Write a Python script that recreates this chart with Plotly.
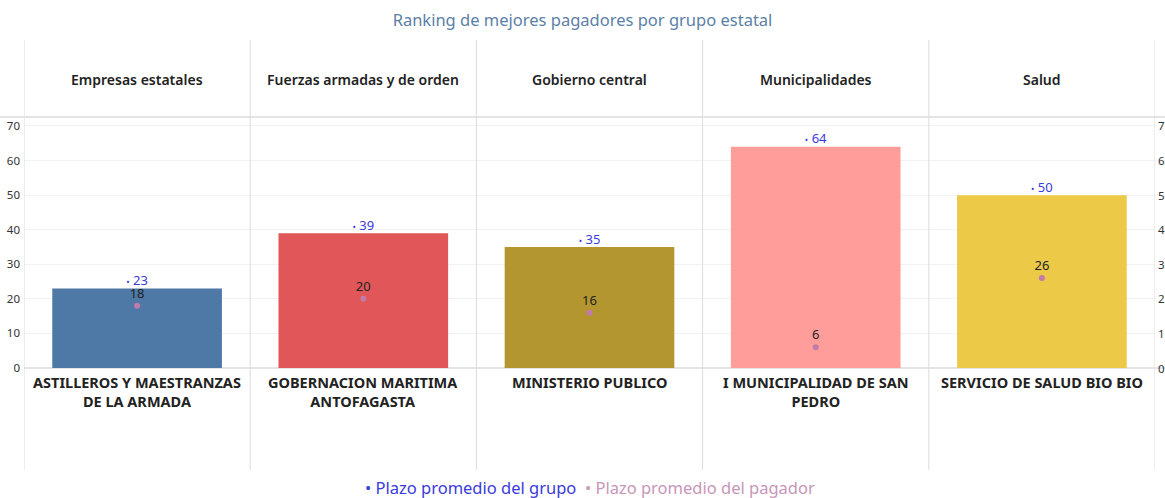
import plotly.graph_objects as go

groups = ["Empresas estatales", "Fuerzas armadas y de orden", "Gobierno central",
          "Municipalidades", "Salud"]
payers = ["ASTILLEROS Y MAESTRANZAS<br>DE LA ARMADA", "GOBERNACION MARITIMA<br>ANTOFAGASTA",
          "MINISTERIO PUBLICO", "I MUNICIPALIDAD DE SAN<br>PEDRO", "SERVICIO DE SALUD BIO BIO"]
group_avg = [23, 39, 35, 64, 50]
payer_avg = [18, 20, 16, 6, 26]
bar_colors = ["#4e79a7", "#e15759", "#b3962f", "#ff9d9a", "#ecc946"]
left_ticks = [0, 10, 20, 30, 40, 50, 60, 70]
right_ticktext = ["0", "1", "2", "3", "4", "5", "6", "7"]

FONT = "Noto Sans"
BLUE = "#3a3adc"
PINK = "#c27aa8"
PINK_TXT = "#c896b9"
x = list(range(len(groups)))

fig = go.Figure()
fig.add_trace(go.Bar(x=x, y=group_avg, marker=dict(color=bar_colors, line=dict(width=0)),
                     width=0.75, showlegend=False, hoverinfo="skip"))
fig.add_trace(go.Scatter(x=x, y=group_avg, mode="text",
                         text=[f"<span style='font-size:9px'>•</span> {v}" for v in group_avg],
                         textposition="top center",
                         textfont=dict(color=BLUE, size=13, family=FONT),
                         showlegend=False, hoverinfo="skip"))
fig.add_trace(go.Scatter(x=x, y=payer_avg, mode="markers+text",
                         marker=dict(color=PINK, size=6),
                         text=[str(v) for v in payer_avg], textposition="top center",
                         textfont=dict(color="#222222", size=13, family=FONT),
                         showlegend=False, hoverinfo="skip"))

shapes = []
for i in range(len(groups) + 1):
    shapes.append(dict(type="line", xref="x", yref="paper", x0=i - 0.5, x1=i - 0.5,
                       y0=-0.406, y1=1.307, line=dict(color="#dcdcdc", width=1)))
shapes.append(dict(type="line", xref="paper", yref="paper", x0=-0.03, x1=1.02, y0=1, y1=1,
                   layer="below", line=dict(color="#e4e4e4", width=2)))
shapes.append(dict(type="line", xref="paper", yref="paper", x0=0, x1=1.02, y0=0, y1=0,
                   layer="below", line=dict(color="#e4e4e4", width=2)))

annotations = []
for i, g in enumerate(groups):
    annotations.append(dict(x=i, xref="x", y=1.151, yref="paper", text=g, showarrow=False,
                            font=dict(family=FONT, size=14, color="#222222", weight=600),
                            xanchor="center", yanchor="middle"))
for i, p in enumerate(payers):
    annotations.append(dict(x=i, xref="x", y=-0.008, yref="paper", text=f"<b>{p}</b>",
                            showarrow=False, align="center",
                            font=dict(family=FONT, size=14.5, color="#222222"),
                            xanchor="center", yanchor="top"))
# secondary (right) axis labels
for v, t in zip(left_ticks, right_ticktext):
    annotations.append(dict(x=1, xref="paper", y=v, yref="y", text=t, showarrow=False,
                            xanchor="left", yanchor="middle", xshift=1,
                            font=dict(family=FONT, size=11.5, color="#333333")))
annotations.append(dict(x=0.5, xref="paper", y=-0.478, yref="paper", showarrow=False,
                        xanchor="center", yanchor="middle",
                        text=f"<span style='color:{BLUE}'>• Plazo promedio del grupo</span>  "
                             f"<span style='color:{PINK_TXT}'>• Plazo promedio del pagador</span>",
                        font=dict(family=FONT, size=16.5)))

fig.update_layout(
    width=1165, height=498,
    margin=dict(l=24, r=10, t=117, b=130, autoexpand=False),
    paper_bgcolor="white", plot_bgcolor="white",
    title=dict(text="Ranking de mejores pagadores por grupo estatal", x=0.5, xanchor="center",
               y=1 - 20 / 498, yanchor="middle",
               font=dict(family=FONT, size=16.5, color="#5b7fa6")),
    xaxis=dict(range=[-0.5, 4.5], tickvals=x, showticklabels=False, showgrid=False,
               zeroline=False, showline=False, fixedrange=True, automargin=False),
    yaxis=dict(range=[0, 72.6], tickvals=left_ticks, showgrid=True, gridcolor="#f2f2f2",
               zeroline=False, showline=False, ticks="", ticklabelstandoff=3, automargin=False,
               tickfont=dict(family=FONT, size=11.5, color="#333333")),
    shapes=shapes, annotations=annotations, showlegend=False,
    font=dict(family=FONT),
)

fig.write_html("out.html", config={"displayModeBar": False},
               post_script="document.body.style.margin='0';document.body.style.overflow='hidden';")
